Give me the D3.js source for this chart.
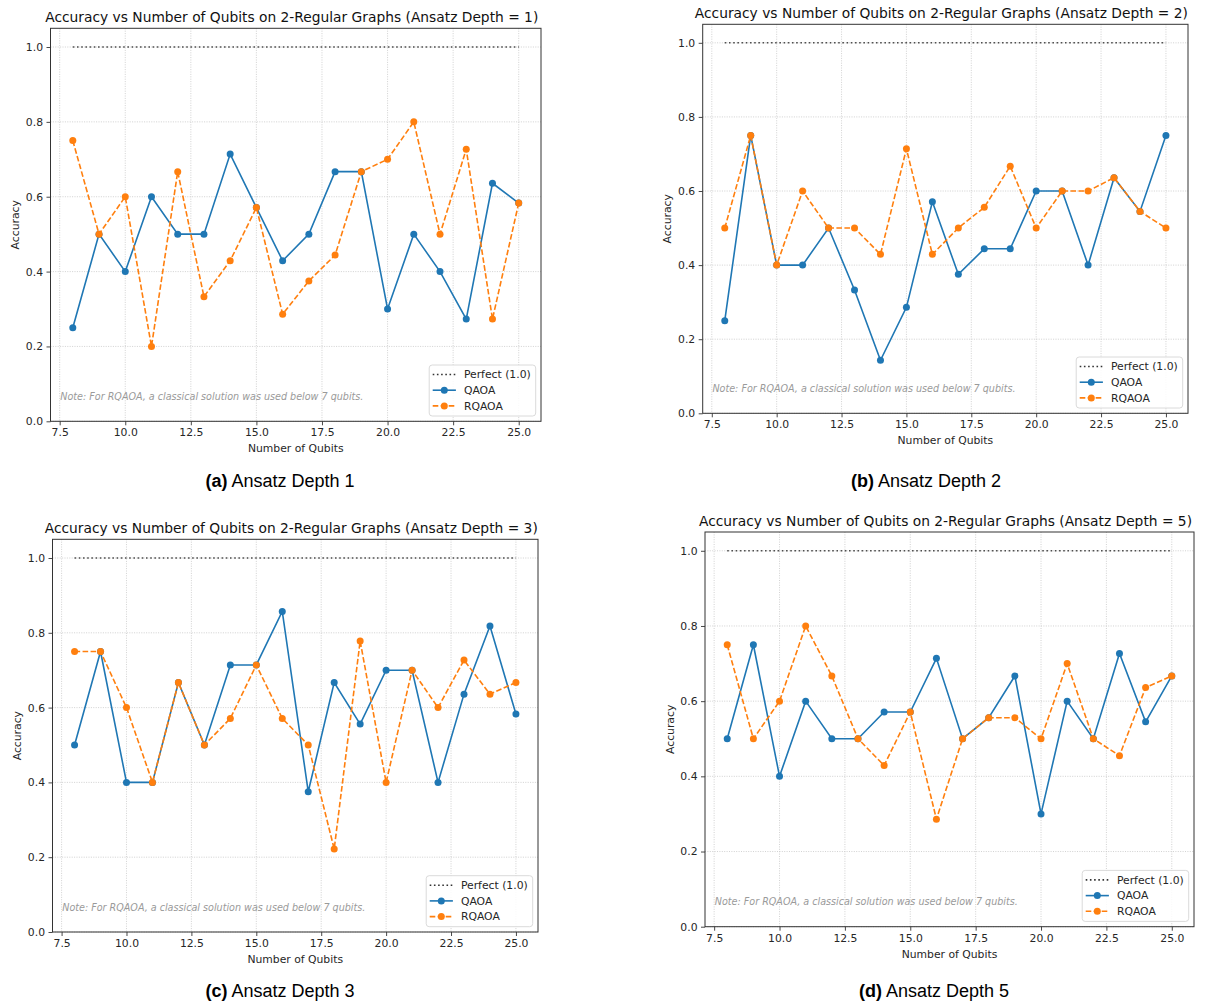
<!DOCTYPE html>
<html>
<head>
<meta charset="utf-8">
<script src="https://cdn.jsdelivr.net/npm/d3@7/dist/d3.min.js"></script>
<style>
  html, body { margin: 0; padding: 0; background: #fff; }
  svg { display: block; }
  .tick text { font-family: "DejaVu Sans", sans-serif; font-size: 10.8px; fill: #262626; }
</style>
</head>
<body>
<svg id="chart" width="1212" height="1006"></svg>
<script>
// Data
var qubits = [8, 9, 10, 11, 12, 13, 14, 15, 16, 17, 18, 19, 20, 21, 22, 23, 24, 25];

var qaoaDepth1  = [0.25, 0.5, 0.4, 0.6, 0.5, 0.5, 0.714, 0.571, 0.429, 0.5, 0.667, 0.667, 0.3, 0.5, 0.4, 0.273, 0.636, 0.583];
var rqaoaDepth1 = [0.75, 0.5, 0.6, 0.2, 0.667, 0.333, 0.429, 0.571, 0.286, 0.375, 0.444, 0.667, 0.7, 0.8, 0.5, 0.727, 0.273, 0.583];

var qaoaDepth2  = [0.25, 0.75, 0.4, 0.4, 0.5, 0.333, 0.143, 0.286, 0.571, 0.375, 0.444, 0.444, 0.6, 0.6, 0.4, 0.636, 0.545, 0.75];
var rqaoaDepth2 = [0.5, 0.75, 0.4, 0.6, 0.5, 0.5, 0.429, 0.714, 0.429, 0.5, 0.556, 0.667, 0.5, 0.6, 0.6, 0.636, 0.545, 0.5];

var qaoaDepth3  = [0.5, 0.75, 0.4, 0.4, 0.667, 0.5, 0.714, 0.714, 0.857, 0.375, 0.667, 0.556, 0.7, 0.7, 0.4, 0.636, 0.818, 0.583];
var rqaoaDepth3 = [0.75, 0.75, 0.6, 0.4, 0.667, 0.5, 0.571, 0.714, 0.571, 0.5, 0.222, 0.778, 0.4, 0.7, 0.6, 0.727, 0.636, 0.667];

var qaoaDepth5  = [0.5, 0.75, 0.4, 0.6, 0.5, 0.5, 0.571, 0.571, 0.714, 0.5, 0.556, 0.667, 0.3, 0.6, 0.5, 0.727, 0.545, 0.667];
var rqaoaDepth5 = [0.75, 0.5, 0.6, 0.8, 0.667, 0.5, 0.429, 0.571, 0.286, 0.5, 0.556, 0.556, 0.5, 0.7, 0.5, 0.455, 0.636, 0.667];

var perfectValue = 1.0;
var xTicks = [7.5, 10, 12.5, 15, 17.5, 20, 22.5, 25];
var yTicks = [0, 0.2, 0.4, 0.6, 0.8, 1.0];
var seriesNames = ['Perfect (1.0)', 'QAOA', 'RQAOA'];

var BLUE = '#1f77b4', ORANGE = '#ff7f0e';
var FONT = '"DejaVu Sans", sans-serif';

var svg = d3.select('#chart');
svg.append('rect').attr('width', 1212).attr('height', 1006).attr('fill', '#fff');

// panel boxes (axes area in page pixels)
var panels = [
    { depth: 1, tag: '(a)', qaoa: qaoaDepth1, rqaoa: rqaoaDepth1, left: 50.5,  top: 28.3,  right: 541,  bottom: 421.3, capX: 280, capY: 487 },
    { depth: 2, tag: '(b)', qaoa: qaoaDepth2, rqaoa: rqaoaDepth2, left: 702.7, top: 24.3,  right: 1188, bottom: 413.3, capX: 926, capY: 487 },
    { depth: 3, tag: '(c)', qaoa: qaoaDepth3, rqaoa: rqaoaDepth3, left: 52.5,  top: 539.3, right: 538,  bottom: 932,   capX: 280, capY: 997 },
    { depth: 5, tag: '(d)', qaoa: qaoaDepth5, rqaoa: rqaoaDepth5, left: 705,   top: 532,   right: 1194, bottom: 926.7, capX: 934, capY: 997 }
];

panels.forEach(drawPanel);

function drawPanel(p) {
    var w = p.right - p.left;
    var h = p.bottom - p.top;

    var x = d3.scaleLinear().domain([7.15, 25.85]).range([p.left, p.right]);
    var y = d3.scaleLinear().domain([0, 1.05]).range([p.bottom, p.top]);

    var g = svg.append('g');

    // grid
    var grid = g.append('g')
        .attr('stroke', '#b0b0b0').attr('stroke-width', 0.8)
        .attr('stroke-dasharray', '1,1.4').attr('opacity', 0.7);
    xTicks.forEach(function (t) {
        grid.append('line')
            .attr('x1', x(t)).attr('x2', x(t))
            .attr('y1', p.top).attr('y2', p.bottom);
    });
    yTicks.forEach(function (t) {
        grid.append('line')
            .attr('x1', p.left).attr('x2', p.right)
            .attr('y1', y(t)).attr('y2', y(t));
    });

    // perfect line
    g.append('line')
        .attr('x1', x(qubits[0])).attr('x2', x(qubits[qubits.length - 1]))
        .attr('y1', y(perfectValue)).attr('y2', y(perfectValue))
        .attr('stroke', '#333').attr('stroke-width', 1.6)
        .attr('stroke-dasharray', '1.6,2.6').attr('opacity', 0.85);

    var line = d3.line()
        .x(function (d, i) { return x(qubits[i]); })
        .y(function (d) { return y(d); });

    // QAOA
    g.append('path').datum(p.qaoa)
        .attr('d', line).attr('fill', 'none')
        .attr('stroke', BLUE).attr('stroke-width', 1.6);
    g.append('g').selectAll('circle').data(p.qaoa).join('circle')
        .attr('cx', function (d, i) { return x(qubits[i]); })
        .attr('cy', function (d) { return y(d); })
        .attr('r', 3.5).attr('fill', BLUE);

    // RQAOA
    g.append('path').datum(p.rqaoa)
        .attr('d', line).attr('fill', 'none')
        .attr('stroke', ORANGE).attr('stroke-width', 1.6)
        .attr('stroke-dasharray', '5.6,2.4');
    g.append('g').selectAll('circle').data(p.rqaoa).join('circle')
        .attr('cx', function (d, i) { return x(qubits[i]); })
        .attr('cy', function (d) { return y(d); })
        .attr('r', 3.5).attr('fill', ORANGE);

    // axes
    var fmt = d3.format('.1f');
    var xAxis = g.append('g')
        .attr('transform', 'translate(0,' + p.bottom + ')')
        .call(d3.axisBottom(x).tickValues(xTicks).tickFormat(fmt).tickSize(4).tickPadding(3.5));
    var yAxis = g.append('g')
        .attr('transform', 'translate(' + p.left + ',0)')
        .call(d3.axisLeft(y).tickValues(yTicks).tickFormat(fmt).tickSize(4).tickPadding(3.5));
    [xAxis, yAxis].forEach(function (a) {
        a.select('.domain').remove();
        a.selectAll('.tick line').attr('stroke', '#333').attr('stroke-width', 0.9);
    });

    // frame
    g.append('rect')
        .attr('x', p.left).attr('y', p.top).attr('width', w).attr('height', h)
        .attr('fill', 'none').attr('stroke', '#333').attr('stroke-width', 1);

    // title and labels
    g.append('text')
        .attr('x', (p.left + p.right) / 2 - 4).attr('y', p.top - 6.5)
        .attr('text-anchor', 'middle')
        .style('font-family', FONT).style('font-size', '13.8px').attr('fill', '#111')
        .text('Accuracy vs Number of Qubits on 2-Regular Graphs (Ansatz Depth = ' + p.depth + ')');
    g.append('text')
        .attr('x', (p.left + p.right) / 2).attr('y', p.bottom + 31)
        .attr('text-anchor', 'middle')
        .style('font-family', FONT).style('font-size', '10.8px').attr('fill', '#262626')
        .text('Number of Qubits');
    g.append('text')
        .attr('transform', 'translate(' + (p.left - 31.5) + ',' + ((p.top + p.bottom) / 2) + ') rotate(-90)')
        .attr('text-anchor', 'middle')
        .style('font-family', FONT).style('font-size', '10.8px').attr('fill', '#262626')
        .text('Accuracy');

    // note
    g.append('text')
        .attr('x', p.left + 0.02 * w).attr('y', p.bottom - 0.05 * h - 1.5)
        .style('font-family', FONT).style('font-size', '9.6px').style('font-style', 'italic')
        .attr('fill', '#9a9a9a')
        .text('Note: For RQAOA, a classical solution was used below 7 qubits.');

    // legend
    var lw = 106.5, lh = 51;
    var lx = p.right - 5.3 - lw, ly = p.bottom - 5.3 - lh;
    var lg = g.append('g').attr('transform', 'translate(' + lx + ',' + ly + ')');
    lg.append('rect').attr('width', lw).attr('height', lh).attr('rx', 3)
        .attr('fill', '#fff').attr('fill-opacity', 0.85)
        .attr('stroke', '#d6d6d6').attr('stroke-width', 0.9);
    var styles = [
        { color: '#333', dash: '1.6,2.6', marker: false },
        { color: BLUE, dash: null, marker: true },
        { color: ORANGE, dash: '5.6,2.4', marker: true }
    ];
    seriesNames.forEach(function (name, i) {
        var ry = 9.5 + i * 15.7;
        var s = styles[i];
        lg.append('line')
            .attr('x1', 3.5).attr('x2', 26.7).attr('y1', ry).attr('y2', ry)
            .attr('stroke', s.color).attr('stroke-width', 1.6)
            .attr('stroke-dasharray', s.dash);
        if (s.marker) {
            lg.append('circle').attr('cx', 15.1).attr('cy', ry).attr('r', 3.5).attr('fill', s.color);
        }
        lg.append('text')
            .attr('x', 34.7).attr('y', ry + 3.8)
            .style('font-family', FONT).style('font-size', '10.8px').attr('fill', '#262626')
            .text(name);
    });

    // caption under subfigure
    var cap = svg.append('text')
        .attr('x', p.capX).attr('y', p.capY)
        .attr('text-anchor', 'middle')
        .style('font-family', '"Liberation Sans", Arial, sans-serif').style('font-size', '18px')
        .attr('fill', '#000');
    cap.append('tspan').style('font-weight', 'bold').text(p.tag);
    cap.append('tspan').text(' Ansatz Depth ' + p.depth);
}
</script>
</body>
</html>
